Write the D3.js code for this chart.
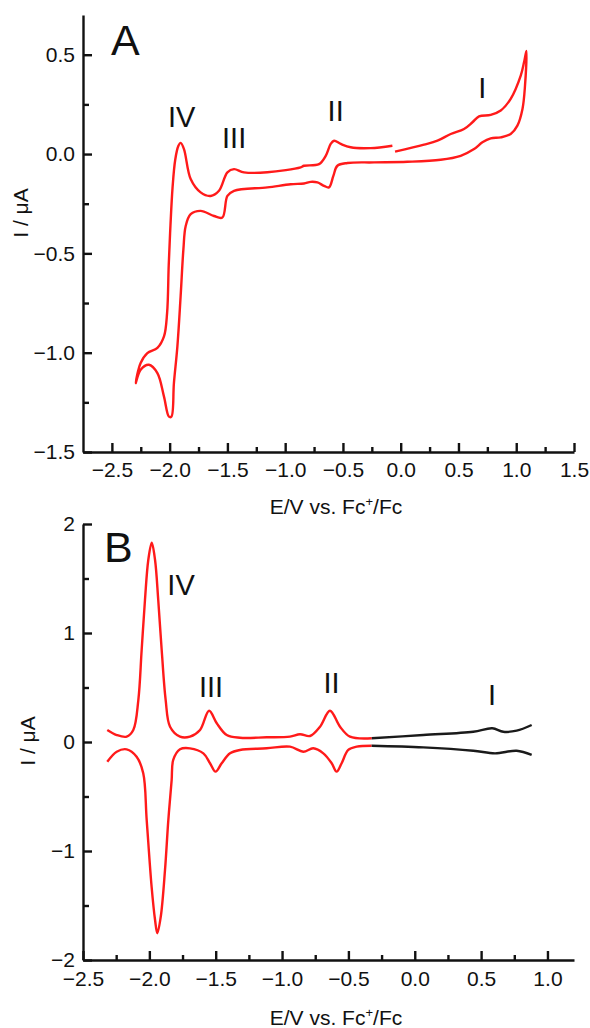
<!DOCTYPE html>
<html lang="en">
<head>
<meta charset="UTF-8">
<title>CV and DPV</title>
<script src="https://d3js.org/d3.v7.min.js"></script>
<style>
  body { margin: 0; background: #fff; }
  svg text { font-family: "Liberation Sans", Arial, sans-serif; fill: #111; }
  .axis path, .axis line { stroke: #111; stroke-width: 2.4px; }
  .axis text { font-size: 21px; }
</style>
</head>
<body>
<div id="chart"></div>
<script>

// Panel A: cyclic voltammogram, one continuous scan [E (V), I (uA)]
var cvA = [
  [-0.049, 0.012], [0.202, 0.047], [0.318, 0.067], [0.433, 0.101], [0.548, 0.126],
  [0.621, 0.160], [0.678, 0.190], [0.779, 0.197], [0.866, 0.219], [0.952, 0.278],
  [1.039, 0.395], [1.068, 0.463], [1.088, 0.519],
  [1.076, 0.345], [1.054, 0.227], [1.010, 0.143], [0.952, 0.101], [0.866, 0.084],
  [0.779, 0.079], [0.707, 0.059], [0.635, 0.025], [0.519, -0.009], [0.346, -0.029],
  [0.058, -0.039], [-0.231, -0.042], [-0.461, -0.045], [-0.548, -0.059], [-0.583, -0.110],
  [-0.621, -0.168], [-0.664, -0.160], [-0.721, -0.143], [-0.779, -0.140], [-0.837, -0.148],
  [-0.952, -0.152], [-1.154, -0.168], [-1.443, -0.185], [-1.500, -0.211], [-1.544, -0.320],
  [-1.616, -0.312], [-1.732, -0.286], [-1.818, -0.303], [-1.861, -0.362], [-1.881, -0.480],
  [-1.905, -0.716], [-1.933, -0.968], [-1.963, -1.153], [-1.985, -1.322], [-2.006, -1.322],
  [-2.049, -1.221], [-2.106, -1.103], [-2.179, -1.061], [-2.251, -1.086], [-2.294, -1.153],
  [-2.251, -1.052], [-2.193, -1.002], [-2.106, -0.976], [-2.049, -0.918], [-2.022, -0.800],
  [-2.008, -0.560], [-1.993, -0.360], [-1.975, -0.170], [-1.952, -0.030], [-1.925, 0.040],
  [-1.905, 0.056], [-1.876, 0.025], [-1.818, -0.126], [-1.732, -0.193], [-1.645, -0.211],
  [-1.573, -0.185], [-1.500, -0.092], [-1.443, -0.076], [-1.357, -0.092], [-1.154, -0.092],
  [-0.866, -0.067], [-0.837, -0.059], [-0.707, -0.051], [-0.649, -0.009], [-0.606, 0.051],
  [-0.577, 0.067], [-0.519, 0.051], [-0.433, 0.034], [-0.260, 0.030], [-0.072, 0.042]
];

// Panel B: differential pulse voltammetry, oxidation (upper) and reduction (lower)
var dpvUpRed = [
  [-2.317, 0.110], [-2.246, 0.064], [-2.171, 0.049], [-2.121, 0.110], [-2.083, 0.385],
  [-2.058, 0.844], [-2.033, 1.303], [-2.008, 1.670], [-1.982, 1.828], [-1.957, 1.670],
  [-1.933, 1.303], [-1.907, 0.844], [-1.877, 0.385], [-1.844, 0.140], [-1.769, 0.049],
  [-1.694, 0.049], [-1.618, 0.110], [-1.550, 0.287], [-1.492, 0.172], [-1.417, 0.064],
  [-1.317, 0.039], [-1.116, 0.043], [-0.940, 0.049], [-0.865, 0.071], [-0.789, 0.055],
  [-0.714, 0.140], [-0.639, 0.287], [-0.563, 0.140], [-0.488, 0.049], [-0.324, 0.034]
];
var dpvUpBlack = [
  [-0.324, 0.034], [0.064, 0.064], [0.441, 0.094], [0.584, 0.126], [0.667, 0.094],
  [0.768, 0.104], [0.881, 0.156]
];
var dpvLowRed = [
  [-2.317, -0.181], [-2.246, -0.089], [-2.171, -0.067], [-2.096, -0.135], [-2.046, -0.287],
  [-2.020, -0.716], [-1.983, -1.328], [-1.957, -1.633], [-1.940, -1.755], [-1.914, -1.603],
  [-1.882, -1.174], [-1.857, -0.716], [-1.832, -0.349], [-1.820, -0.165], [-1.769, -0.067],
  [-1.694, -0.058], [-1.593, -0.104], [-1.543, -0.195], [-1.501, -0.272], [-1.455, -0.195],
  [-1.392, -0.104], [-1.317, -0.073], [-1.116, -0.058], [-0.940, -0.043], [-0.840, -0.089],
  [-0.765, -0.058], [-0.689, -0.104], [-0.626, -0.195], [-0.589, -0.272], [-0.551, -0.195],
  [-0.501, -0.073], [-0.437, -0.043], [-0.325, -0.034]
];
var dpvLowBlack = [
  [-0.325, -0.034], [0.064, -0.049], [0.441, -0.080], [0.605, -0.104], [0.768, -0.080],
  [0.881, -0.119]
];

// peak labels [text, E, I]
var peaksA = [["IV", -1.896, 0.136], ["III", -1.442, 0.030], ["II", -0.563, 0.167], ["I", 0.706, 0.283]];
var peaksB = [["IV", -1.761, 1.349], ["III", -1.535, 0.413], ["II", -0.627, 0.450], ["I", 0.582, 0.339]];

var xTicksA = [-2.5, -2.0, -1.5, -1.0, -0.5, 0.0, 0.5, 1.0, 1.5];
var yTicksA = [-1.5, -1.0, -0.5, 0.0, 0.5];
var xTicksB = [-2.5, -2.0, -1.5, -1.0, -0.5, 0.0, 0.5, 1.0];
var yTicksB = [-2, -1, 0, 1, 2];

var svg = d3.select("#chart").append("svg")
    .attr("width", 590)
    .attr("height", 1028);

function minors(ticks, step) {
  return ticks.slice(0, -1).map(function(t){ return t + step / 2; });
}

function panel(opt) {
  var x = d3.scaleLinear().domain(opt.xDomain).range([83, 574]);
  var y = d3.scaleLinear().domain(opt.yDomain).range(opt.yRange);
  var g = svg.append("g");
  var bottom = opt.yRange[0];

  // minor ticks
  g.append("g").attr("class", "axis")
      .attr("transform", "translate(0," + bottom + ")")
      .call(d3.axisBottom(x).tickValues(minors(opt.xTicks, 0.5)).tickSize(-5).tickFormat(""))
      .select(".domain").remove();
  g.append("g").attr("class", "axis")
      .attr("transform", "translate(83,0)")
      .call(d3.axisLeft(y).tickValues(minors(opt.yTicks, opt.yStep)).tickSize(-6).tickFormat(""))
      .select(".domain").remove();

  // major ticks
  g.append("g").attr("class", "axis")
      .attr("transform", "translate(0," + bottom + ")")
      .call(d3.axisBottom(x).tickValues(opt.xTicks).tickSizeInner(-9).tickSizeOuter(0)
              .tickPadding(opt.xPad).tickFormat(d3.format(".1f")));
  g.append("g").attr("class", "axis")
      .attr("transform", "translate(83,0)")
      .call(d3.axisLeft(y).tickValues(opt.yTicks).tickSizeInner(-9).tickSizeOuter(0)
              .tickPadding(8).tickFormat(d3.format(opt.yFmt)));

  var line = d3.line()
      .x(function(d){ return x(d[0]); })
      .y(function(d){ return y(d[1]); })
      .curve(d3.curveCatmullRom.alpha(0.5));

  opt.series.forEach(function(s){
    g.append("path")
        .datum(s.data)
        .attr("d", line)
        .attr("fill", "none")
        .attr("stroke", s.color)
        .attr("stroke-width", 2.4)
        .attr("stroke-linejoin", "round");
  });

  g.selectAll(".peak")
      .data(opt.peaks)
      .enter().append("text")
      .attr("class", "peak")
      .attr("x", function(d){ return x(d[1]); })
      .attr("y", function(d){ return y(d[2]); })
      .attr("text-anchor", "middle")
      .style("font-size", "29px")
      .text(function(d){ return d[0]; });

  g.append("text")
      .attr("x", opt.letterPos[0])
      .attr("y", opt.letterPos[1])
      .style("font-size", "43px")
      .text(opt.letter);

  var xl = g.append("text")
      .attr("x", 336)
      .attr("y", opt.xLabelY)
      .attr("text-anchor", "middle")
      .style("font-size", "21px");
  xl.append("tspan").text("E/V vs. Fc");
  xl.append("tspan").attr("dy", -8).style("font-size", "13px").text("+");
  xl.append("tspan").attr("dy", 8).text("/Fc");

  g.append("text")
      .attr("transform", "translate(" + opt.yLabel[0] + "," + opt.yLabel[1] + ") rotate(-90)")
      .attr("text-anchor", "middle")
      .style("font-size", "21px")
      .text("I / \u03bcA");
}

panel({
  xDomain: [-2.75, 1.5], yDomain: [-1.5, 0.7], yRange: [452, 15],
  xTicks: xTicksA, yTicks: yTicksA, yStep: 0.5, yFmt: ".1f", xPad: 10,
  series: [{data: cvA, color: "#ff1a1a"}],
  peaks: peaksA, letter: "A", letterPos: [111, 55],
  xLabelY: 514, yLabel: [28, 213]
});

panel({
  xDomain: [-2.5, 1.2], yDomain: [-2, 2], yRange: [960, 524],
  xTicks: xTicksB, yTicks: yTicksB, yStep: 1, yFmt: "d", xPad: 11,
  series: [
    {data: dpvUpRed, color: "#ff1a1a"}, {data: dpvUpBlack, color: "#1a1a1a"},
    {data: dpvLowRed, color: "#ff1a1a"}, {data: dpvLowBlack, color: "#1a1a1a"}
  ],
  peaks: peaksB, letter: "B", letterPos: [104, 562],
  xLabelY: 1025, yLabel: [35, 741]
});

</script>
</body>
</html>
